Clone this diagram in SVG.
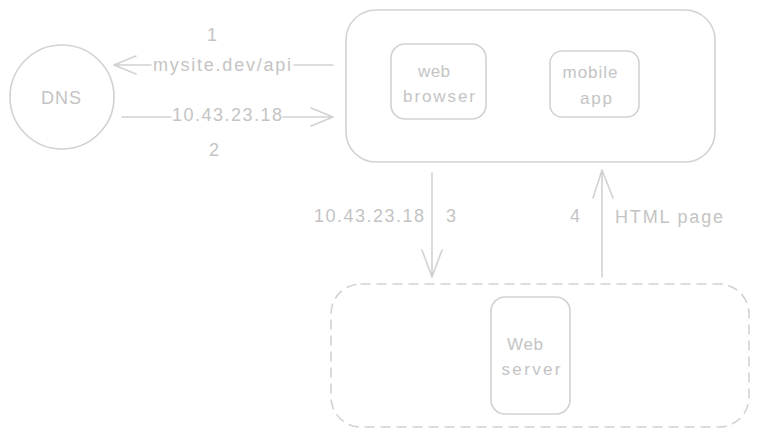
<svg xmlns="http://www.w3.org/2000/svg" width="759" height="437" viewBox="0 0 759 437">
<defs>
<style>
.s{fill:none;stroke:#d2d2d2;stroke-width:1.6;stroke-linecap:round;stroke-linejoin:round}
.d{stroke-dasharray:9 7}
.t{font-family:"Liberation Sans","DejaVu Sans",sans-serif;font-size:18px;fill:#c4c4c4;text-anchor:middle;dominant-baseline:central}
.ts{font-size:17px}
</style>
</defs>
<rect width="759" height="437" fill="#ffffff"/>
<g id="dns">
<circle class="s" cx="62" cy="97" r="52"/>
<text class="t" x="61" y="98" textLength="40" lengthAdjust="spacing">DNS</text>
</g>
<g id="client">
<rect class="s" x="346" y="10" width="369" height="152" rx="30"/>
</g>
<g id="web-browser">
<rect class="s" x="391" y="44" width="95" height="75" rx="14"/>
<text class="t ts" x="434" y="71" textLength="32" lengthAdjust="spacing">web</text>
<text class="t ts" x="439" y="96" textLength="72" lengthAdjust="spacing">browser</text>
</g>
<g id="mobile-app">
<rect class="s" x="550" y="51" width="89" height="66" rx="12"/>
<text class="t ts" x="590" y="72" textLength="55" lengthAdjust="spacing">mobile</text>
<text class="t ts" x="596" y="98" textLength="32" lengthAdjust="spacing">app</text>
</g>
<g id="server-zone">
<rect class="s d" x="331" y="284" width="418" height="143" rx="30"/>
</g>
<g id="web-server">
<rect class="s" x="491" y="297" width="79" height="117" rx="14"/>
<text class="t ts" x="525" y="344" textLength="36" lengthAdjust="spacing">Web</text>
<text class="t ts" x="531" y="369" textLength="59" lengthAdjust="spacing">server</text>
</g>
<g id="connectors">
<path class="s" d="M333 65 H294 M151 65 H114 M114 65 L136 56 M114 65 L136 74"/>
<text class="t" x="222" y="65" textLength="138" lengthAdjust="spacing">mysite.dev/api</text>
<text class="t" x="212" y="35">1</text>
<path class="s" d="M122 117 H171 M283 117 H333 M333 117 L311 108 M333 117 L311 126"/>
<text class="t" x="227" y="115" textLength="110" lengthAdjust="spacing">10.43.23.18</text>
<text class="t" x="214" y="150">2</text>
<path class="s" d="M432 173 V277 M432 277 L422 250 M432 277 L442 250"/>
<text class="t" x="369" y="216" textLength="110" lengthAdjust="spacing">10.43.23.18</text>
<text class="t" x="451" y="216">3</text>
<path class="s" d="M602 277 V170 M602 170 L593 198 M602 170 L613 198"/>
<text class="t" x="575" y="216">4</text>
<text class="t" x="669" y="217" textLength="108" lengthAdjust="spacing">HTML page</text>
</g>
</svg>
